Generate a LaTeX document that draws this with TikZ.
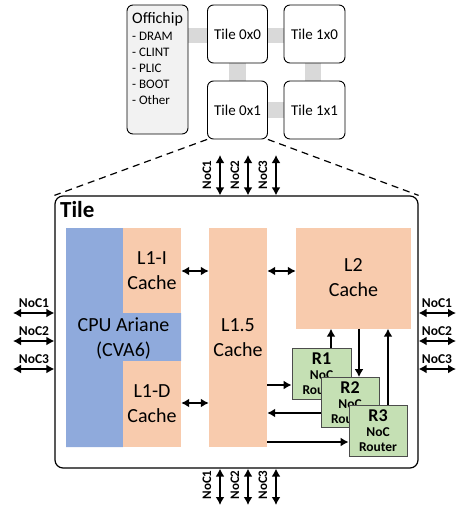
\documentclass[tikz,border=0pt]{standalone}
\usepackage{fontspec}
\setmainfont{Carlito}
\usetikzlibrary{arrows.meta}
\definecolor{cpublue}{HTML}{8FAADC}
\definecolor{cachesal}{HTML}{F8CBAD}
\definecolor{rtgreen}{HTML}{C5E0B4}
\definecolor{linkgray}{HTML}{D9D9D9}
\definecolor{offfill}{HTML}{F2F2F2}
\newcommand{\rtext}[1]{{\fontsize{18}{18}\selectfont #1}\\{\fontsize{13.5}{15}\selectfont NoC}\\{\fontsize{13.5}{15}\selectfont Router}}
\begin{document}
\begin{tikzpicture}[x=1pt,y=-1pt,
  tilebox/.style={draw, line width=0.9pt, rounded corners=6pt, fill=white, inner sep=0pt, font=\fontsize{15}{18}\selectfont},
  link/.style={fill=linkgray, draw=none},
  cache/.style={fill=cachesal, draw=none, inner sep=0pt, align=center, font=\fontsize{20}{25}\selectfont},
  router/.style={fill=rtgreen, draw=black!70, line width=0.8pt, inner sep=0pt, align=center, font=\bfseries\fontsize{13.5}{15}\selectfont},
  biarrow/.style={{Latex[length=8pt,width=9pt]}-{Latex[length=8pt,width=9pt]}, line width=1.8pt},
  onearrow/.style={-{Latex[length=8pt,width=9pt]}, line width=1.8pt},
  noclab/.style={font=\bfseries\fontsize{13.5}{15}\selectfont, inner sep=0pt},
]
\useasboundingbox (0,0) rectangle (459,507);

% gray links
\fill[link] (188,28) rectangle (208,43);
\fill[link] (267,28) rectangle (284,43);
\fill[link] (229,62) rectangle (246,81);
\fill[link] (305,62) rectangle (321,81);
\fill[link] (267,102) rectangle (284,118);

% top level boxes
\node[tilebox, fill=offfill, minimum width=61pt, minimum height=129pt] (off) at (157.5,69.5) {};
\node[anchor=north west, inner sep=0pt, align=left, font=\fontsize{13}{16}\selectfont] (offtxt) at (132,12)
  {{\fontsize{16}{18}\selectfont Offichip}\\[1pt] - DRAM\\ - CLINT\\ - PLIC\\ - BOOT\\ - Other};
\node[tilebox, minimum width=60pt, minimum height=58pt] (t00) at (237.5,34) {Tile 0x0};
\node[tilebox, minimum width=61pt, minimum height=58pt] (t10) at (314.5,34) {Tile 1x0};
\node[tilebox, minimum width=60pt, minimum height=58pt] (t01) at (237.5,110) {Tile 0x1};
\node[tilebox, minimum width=61pt, minimum height=58pt] (t11) at (314.5,110) {Tile 1x1};

% big tile
\node[draw, line width=1.2pt, rounded corners=8pt, minimum width=363pt, minimum height=272pt, inner sep=0pt] (tile) at (236.5,332) {};
\draw[line width=1.2pt, dash pattern=on 7pt off 5pt] (t01.south west) -- (tile.north west);
\draw[line width=1.2pt, dash pattern=on 7pt off 5pt] (t01.south east) -- (tile.north east);
\node[anchor=base west, inner sep=0pt, font=\bfseries\fontsize{23}{26}\selectfont] (tilelab) at (60,217) {Tile};

% CPU
\fill[cpublue] (66,228) -- (123,228) -- (123,313) -- (181,313) -- (181,361) -- (123,361) -- (123,447) -- (66,447) -- cycle;
\node[align=center, inner sep=0pt, font=\fontsize{20}{25}\selectfont] (cpu) at (123.5,339) {CPU Ariane\\(CVA6)};
\node[cache, minimum width=58pt, minimum height=85pt] (l1i) at (152,270.5) {L1-I\\Cache};
\node[cache, minimum width=58pt, minimum height=86pt] (l1d) at (152,404) {L1-D\\Cache};
\node[cache, minimum width=58pt, minimum height=219pt] (l15) at (238,337.5) {L1.5\\Cache};
\node[cache, minimum width=115pt, minimum height=101pt] (l2) at (353.5,278) {L2\\Cache};

% routers
\node[router, minimum width=59pt, minimum height=51pt] (r1) at (321.5,374) {\rtext{R1}};
\node[router, minimum width=58pt, minimum height=50pt] (r2) at (350,402.5) {\rtext{R2}};
\node[router, minimum width=58pt, minimum height=51pt] (r3) at (378,431) {\rtext{R3}};

% internal arrows
\draw[biarrow] (l1i.east |- 0,271) -- (l15.west |- 0,271);
\draw[biarrow] (l1d.east |- 0,403) -- (l15.west |- 0,403);
\draw[biarrow] (l15.east |- 0,271) -- (l2.west |- 0,271);
\draw[onearrow] (r1.north -| 331,0) -- (l2.south -| 331,0);
\draw[onearrow] (l2.south -| 359,0) -- (r2.north -| 359,0);
\draw[onearrow] (r3.north -| 388,0) -- (l2.south -| 388,0);
\draw[onearrow] (l15.east |- 0,385) -- (r1.west |- 0,385);
\draw[onearrow] (r2.west |- 0,413) -- (l15.east |- 0,413);
\draw[onearrow] (l15.east |- 0,442) -- (r3.west |- 0,442);

% NoC ports
\foreach \x/\n [count=\i] in {220/1,248/2,276/3} {
  \coordinate (nt\i) at (\x,155);
  \coordinate (nb\i) at (\x,505);
  \draw[biarrow] (nt\i) -- (tile.north -| nt\i);
  \draw[biarrow] (tile.south -| nb\i) -- (nb\i);
  \node[noclab, font=\bfseries\fontsize{13}{15}\selectfont, rotate=90] (ntl\i) at (\x-13,175) {NoC\n};
  \node[noclab, font=\bfseries\fontsize{13}{15}\selectfont, rotate=90] (nbl\i) at (\x-13,485) {NoC\n};
}
\foreach \y/\n [count=\i] in {313/1,341/2,369/3} {
  \coordinate (nl\i) at (13,\y);
  \coordinate (nr\i) at (456,\y);
  \draw[biarrow] (nl\i) -- (tile.west |- nl\i);
  \draw[biarrow] (tile.east |- nr\i) -- (nr\i);
  \node[noclab] (nll\i) at (34,\y-10) {NoC\n};
  \node[noclab] (nrl\i) at (437,\y-10) {NoC\n};
}
\end{tikzpicture}
\end{document}
